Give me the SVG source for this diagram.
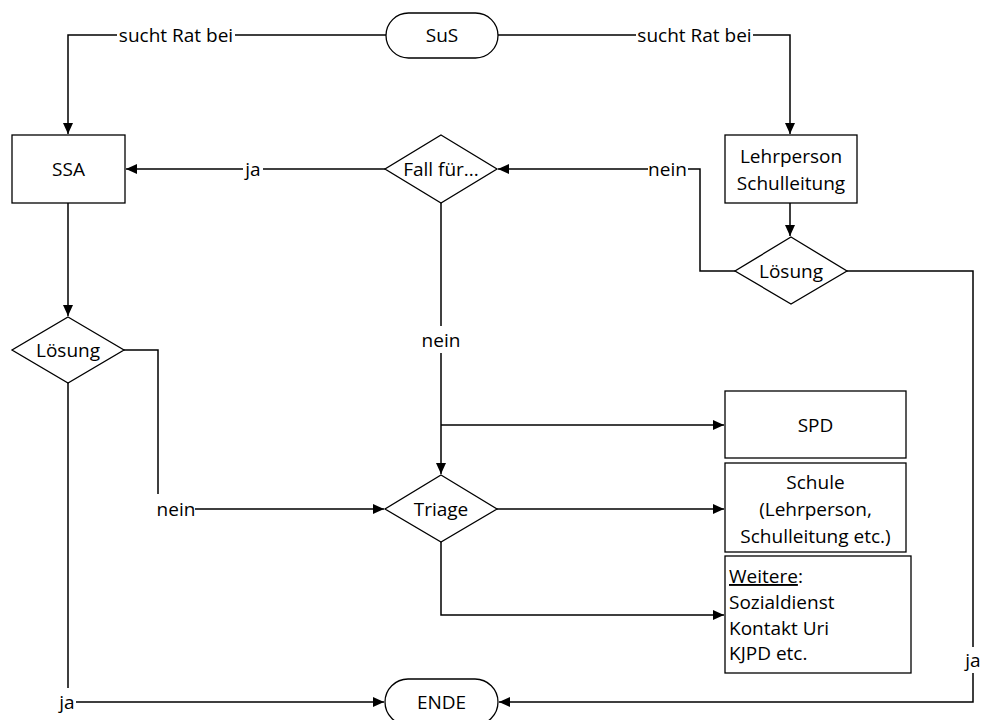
<svg xmlns="http://www.w3.org/2000/svg" width="983" height="720" viewBox="0 0 983 720">
<style>
text{font-family:"Open Sans","Noto Sans",sans-serif;font-size:19px;fill:#000}
.c{text-anchor:middle}
.shape{fill:#fff;stroke:#000;stroke-width:1.3}
.ln{fill:none;stroke:#000;stroke-width:1.5}
.lb{fill:#fff;stroke:none}
</style>
<defs>
<marker id="ah" markerUnits="userSpaceOnUse" markerWidth="12" markerHeight="12" refX="11" refY="5" orient="auto">
<path d="M0,0 L11,5 L0,10 z" fill="#000"/>
</marker>
</defs>
<g id="connectors">
<path class="ln" d="M386,35 H68 V134" marker-end="url(#ah)"/>
<path class="ln" d="M498,35 H790 V134" marker-end="url(#ah)"/>
<path class="ln" d="M385,169 H126" marker-end="url(#ah)"/>
<path class="ln" d="M790,203 V236" marker-end="url(#ah)"/>
<path class="ln" d="M735,271 H700 V169 H498" marker-end="url(#ah)"/>
<path class="ln" d="M847,271 H973 V702 H499" marker-end="url(#ah)"/>
<path class="ln" d="M68,203 V316" marker-end="url(#ah)"/>
<path class="ln" d="M124,350 H158 V509 H384" marker-end="url(#ah)"/>
<path class="ln" d="M68,383 V702 H384" marker-end="url(#ah)"/>
<path class="ln" d="M441,203 V474" marker-end="url(#ah)"/>
<path class="ln" d="M441,425 H724" marker-end="url(#ah)"/>
<path class="ln" d="M497,509 H724" marker-end="url(#ah)"/>
<path class="ln" d="M441,542 V615 H724" marker-end="url(#ah)"/>
<rect class="lb" x="117" y="25" width="118" height="20"/>
<text class="c" x="176" y="42">sucht Rat bei</text>
<rect class="lb" x="636" y="25" width="117" height="20"/>
<text class="c" x="694.5" y="42">sucht Rat bei</text>
<rect class="lb" x="243" y="159" width="20" height="22"/>
<text class="c" x="253" y="176">ja</text>
<rect class="lb" x="648" y="159" width="40" height="20"/>
<text class="c" x="667.5" y="176">nein</text>
<rect class="lb" x="420" y="326" width="42" height="27"/>
<text class="c" x="441" y="347">nein</text>
<rect class="lb" x="150" y="494" width="45" height="24"/>
<text class="c" x="176" y="516">nein</text>
<rect class="lb" x="56" y="688" width="20" height="24"/>
<text class="c" x="67" y="709">ja</text>
<rect class="lb" x="962" y="647" width="22" height="26"/>
<text class="c" x="973" y="667">ja</text>
</g>
<g id="sus">
<rect class="shape" x="386" y="13" width="112" height="45" rx="22.5"/>
<text class="c" x="442" y="42">SuS</text>
</g>
<g id="ssa">
<rect class="shape" x="12" y="135" width="113" height="68"/>
<text class="c" x="68.5" y="176">SSA</text>
</g>
<g id="fall">
<path class="shape" d="M441,135 L497,169 L441,203 L385,169 z"/>
<text class="c" x="441" y="176">Fall für...</text>
</g>
<g id="lehrperson">
<rect class="shape" x="725" y="135" width="132" height="68"/>
<text class="c" x="791" y="163">Lehrperson</text>
<text class="c" x="791" y="190">Schulleitung</text>
</g>
<g id="loesung-rechts">
<path class="shape" d="M791,237 L847,271 L791,304 L735,271 z"/>
<text class="c" x="791" y="278">Lösung</text>
</g>
<g id="loesung-links">
<path class="shape" d="M68,317 L124,350 L68,383 L12,350 z"/>
<text class="c" x="68" y="357">Lösung</text>
</g>
<g id="triage">
<path class="shape" d="M441,475 L497,509 L441,542 L385,509 z"/>
<text class="c" x="441" y="516">Triage</text>
</g>
<g id="spd">
<rect class="shape" x="725" y="391" width="181" height="67"/>
<text class="c" x="815.5" y="432">SPD</text>
</g>
<g id="schule">
<rect class="shape" x="725" y="463" width="181" height="89"/>
<text class="c" x="815.5" y="489">Schule</text>
<text class="c" x="815.5" y="516">(Lehrperson,</text>
<text class="c" x="815.5" y="543">Schulleitung etc.)</text>
</g>
<g id="weitere">
<rect class="shape" x="725" y="556" width="186" height="117"/>
<text x="729" y="583"><tspan style="text-decoration:underline">Weitere</tspan>:</text>
<text x="729" y="609">Sozialdienst</text>
<text x="729" y="635">Kontakt Uri</text>
<text x="729" y="660">KJPD etc.</text>
</g>
<g id="ende">
<rect class="shape" x="385" y="679" width="113" height="46" rx="23"/>
<text class="c" x="441.5" y="709">ENDE</text>
</g>
</svg>
